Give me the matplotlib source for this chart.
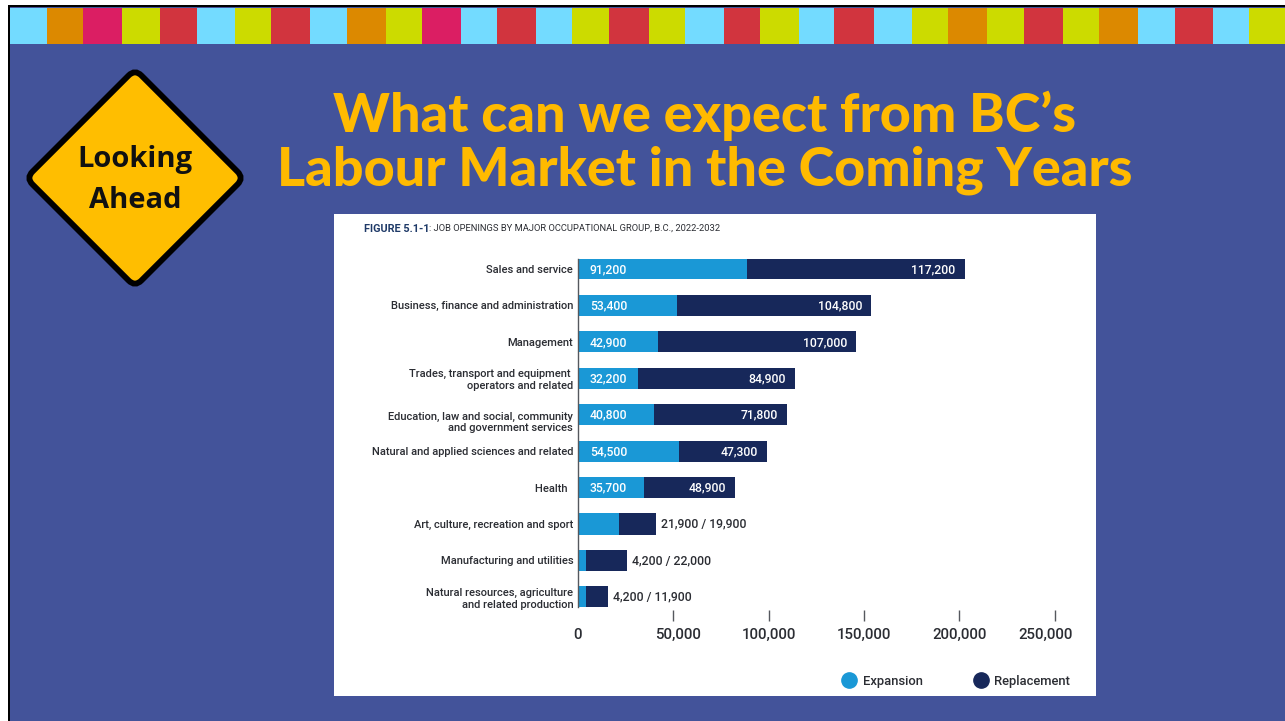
import matplotlib
matplotlib.use('Agg')
import matplotlib.pyplot as plt
from matplotlib.lines import Line2D
from matplotlib.patches import FancyBboxPatch, Rectangle
from matplotlib.transforms import Affine2D, ScaledTranslation

W, H = 1285, 721

categories = ['Sales and service', 'Business, finance and administration', 'Management',
              'Trades, transport and equipment \noperators and related',
              'Education, law and social, community\nand government services',
              'Natural and applied sciences and related', 'Health  ',
              'Art, culture, recreation and sport', 'Manufacturing and utilities',
              'Natural resources, agriculture\nand related production']
expansion = [91200, 53400, 42900, 32200, 40800, 54500, 35700, 21900, 4200, 4200]
replacement = [117200, 104800, 107000, 84900, 71800, 47300, 48900, 19900, 22000, 11900]
axis_ticks = [0, 50000, 100000, 150000, 200000, 250000]

stripe_edges = [10, 47, 83, 122, 160, 197, 235, 271, 310, 347, 386, 422, 461, 497, 536, 572, 609, 649,
                685, 724, 760, 799, 834, 874, 912, 948, 987, 1024, 1063, 1099, 1138, 1175, 1213, 1249, 1285]
CY, OR, PK, LM, RD = '#73DBFF', '#DC8900', '#DB1E63', '#CCDB00', '#D1343E'
stripe_colors = [CY, OR, PK, LM, RD, CY, LM, RD, CY, OR, LM, PK,
                 CY, RD, CY, LM, RD, LM, CY, RD, LM, CY, RD,
                 CY, LM, OR, LM, RD, LM, OR, CY, RD, CY, LM]

BLUE = '#1A98D6'
NAVY = '#17285A'
TEXT = '#2B2D33'
GOLD = '#FFBA00'
FONT = 'Roboto'

fig = plt.figure(figsize=(W / 100, H / 100), dpi=100, facecolor='white')

# slide background, everything here is in pixels
bg = fig.add_axes([0, 0, 1, 1])
bg.set_xlim(0, W)
bg.set_ylim(H, 0)
bg.axis('off')
bg.add_patch(Rectangle((8, 5), W - 8, H - 5, facecolor='black', lw=0))
bg.add_patch(Rectangle((10, 7), W - 10, H - 7, facecolor='#43539A', lw=0))
for i in range(len(stripe_colors)):
    bg.add_patch(Rectangle((stripe_edges[i], 7.5), stripe_edges[i + 1] - stripe_edges[i], 36.5,
                           facecolor=stripe_colors[i], lw=0))
bg.add_patch(Rectangle((334, 214), 762, 482, facecolor='white', lw=0))

# road sign
rot = Affine2D().rotate_deg_around(135, 178, 45) + bg.transData
bg.add_patch(FancyBboxPatch((135 - 69, 178 - 69), 138, 138, boxstyle='round,pad=8,rounding_size=9',
                            facecolor='#FFBE00', edgecolor='black', lw=4.2, transform=rot))
bg.text(135, 159, 'Looking', ha='center', va='center', fontsize=21, fontweight='bold',
        family='Open Sans', color='#111111')
bg.text(135, 200, 'Ahead', ha='center', va='center', fontsize=21, fontweight='bold',
        family='Open Sans', color='#111111')

bg.text(705, 116, 'What can we expect from BC’s', ha='center', va='center', fontsize=38.8,
        fontweight='black', family='Lato', color=GOLD)
bg.text(705, 170, 'Labour Market in the Coming Years', ha='center', va='center', fontsize=38.8,
        fontweight='black', family='Lato', color=GOLD)

bg.text(364, 228.5, 'FIGURE 5.1-1', ha='left', va='center', fontsize=7.8, fontweight='bold',
        family=FONT, color='#1F3A68')
bg.text(429, 228.5, ': JOB OPENINGS BY MAJOR OCCUPATIONAL GROUP, B.C., 2022-2032', ha='left', va='center',
        fontsize=6.75, family=FONT, color=TEXT)

# chart, axes box runs from x=578 to 1054.5 and y=259 to 610
ax = fig.add_axes([578 / W, 1 - 610 / H, 476.5 / W, 351 / H])
ax.patch.set_alpha(0)
ax.set_xlim(0, 256900)  # bars in the original are drawn a bit narrower than its axis
ax.set_ylim(9.36, -0.27)
ypos = list(range(len(categories)))
ax.barh(ypos, expansion, height=0.58, color=BLUE)
ax.barh(ypos, replacement, left=expansion, height=0.58, color=NAVY)

ax.set_yticks(ypos)
ax.set_yticklabels(categories, fontsize=8, family=FONT, fontweight='medium', color=TEXT, ma='right')
ax.tick_params(axis='y', length=0, pad=3.5)
for i, lab in enumerate(ax.get_yticklabels()):
    if i == 4:
        lab.set_transform(lab.get_transform() + ScaledTranslation(0, -6 / 100, fig.dpi_scale_trans))
ax.set_xticks([])
for s in ['top', 'right', 'bottom']:
    ax.spines[s].set_visible(False)
ax.spines['left'].set_color('#55585E')
ax.spines['left'].set_linewidth(1)
ax.spines['left'].set_bounds(9.28, -0.27)

for i in ypos:
    total = expansion[i] + replacement[i]
    if i < 7:
        ax.annotate(f'{expansion[i]:,}', (0, i), xytext=(8.5, -0.5), textcoords='offset points', ha='left',
                    va='center', fontsize=8.8, family=FONT, fontweight='medium', color='white')
        ax.annotate(f'{replacement[i]:,}', (total, i), xytext=(-6.5, -0.5), textcoords='offset points', ha='right',
                    va='center', fontsize=8.8, family=FONT, fontweight='medium', color='white')
    else:
        ax.annotate(f'{expansion[i]:,} / {replacement[i]:,}', (total, i), xytext=(3.8, 0), textcoords='offset points',
                    ha='left', va='center', fontsize=8.8, family=FONT, fontweight='medium', color=TEXT)

# tick labels sit on their own scale
ax2 = ax.twiny()
ax2.set_xlim(0, 250000)
ax2.xaxis.set_ticks_position('bottom')
ax2.set_xticks(axis_ticks)
ax2.set_xticklabels([f'{t:,}' for t in axis_ticks], fontsize=10.8, family=FONT, fontweight='medium', color=TEXT)
ax2.tick_params(axis='x', length=8, width=1, color='#55585E', pad=5)
ax2.xaxis.get_major_ticks()[0].tick1line.set_visible(False)
# first and last numbers are not centred under their ticks in the original
labs = ax2.get_xticklabels()
labs[1].set_transform(labs[1].get_transform() + ScaledTranslation(5 / 100, 0, fig.dpi_scale_trans))
labs[5].set_transform(labs[5].get_transform() + ScaledTranslation(-9 / 100, 0, fig.dpi_scale_trans))
for s in ax2.spines.values():
    s.set_visible(False)

handles = [Line2D([], [], ls='', marker='o', ms=11, color=BLUE),
           Line2D([], [], ls='', marker='o', ms=11, color=NAVY)]
fig.legend(handles, ['Expansion', 'Replacement'], ncol=2, frameon=False, loc='center',
           bbox_to_anchor=(955.7 / W, 1 - 681 / H), prop={'family': FONT, 'size': 9.4, 'weight': 'medium'},
           labelcolor=TEXT, columnspacing=3.85, handletextpad=0.45, handlelength=1.2)

plt.savefig('out.png', dpi=100)
plt.close()
